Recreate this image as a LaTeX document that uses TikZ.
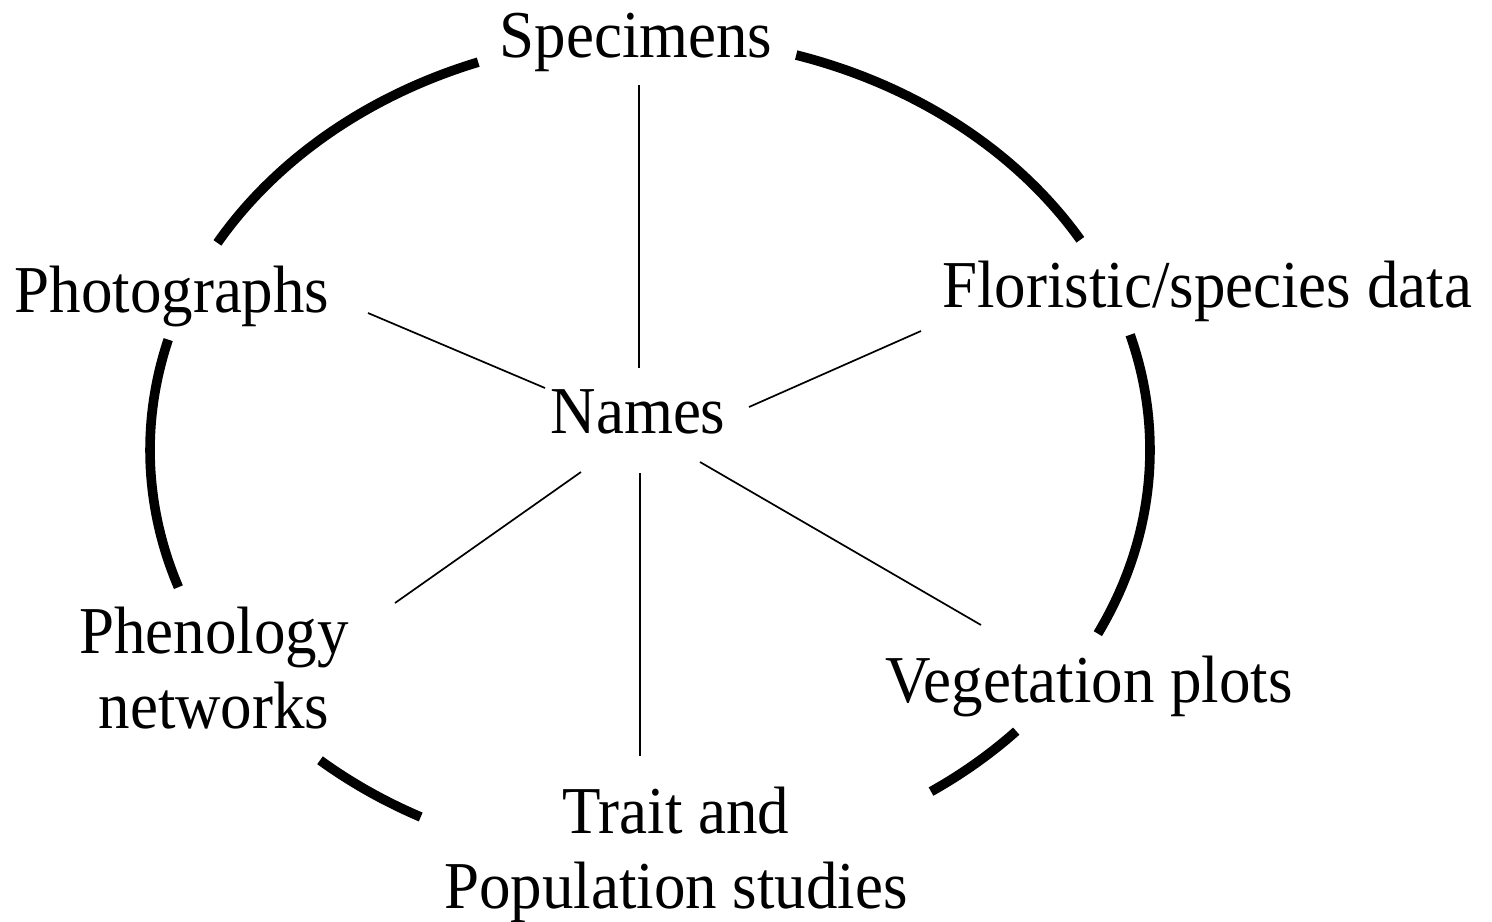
\documentclass[tikz,border=0pt]{standalone}
\usepackage{fontspec}
\setmainfont{Liberation Serif}[FakeStretch=0.94]
\usetikzlibrary{calc}
\tikzset{
  lbl/.style={inner sep=0pt, anchor=base, font=\fontsize{33.5}{37.5}\selectfont, align=center},
  ring/.style={line width=4.8pt},
  spoke/.style={line width=0.85pt},
}
\begin{document}
\begin{tikzpicture}[x=0.5pt,y=-0.5pt]
\path[use as bounding box, fill=white] (0,0) rectangle (1492,921);
\coordinate (c) at (650,450);
% labels (base = baseline of the last line)
\node[lbl] (spec)  at (636,57)   {Specimens};
\node[lbl] (photo) at (172,312)  {Photographs};
\node[lbl] (flor)  at (1207,307) {Floristic/species data};
\node[lbl] (names) at (638,433)  {Names};
\node[lbl] (pheno) at (214,728)  {Phenology\\networks};
\node[lbl] (trait) at (676,908)  {Trait and\\Population studies};
\node[lbl] (veg)   at (1089,702) {Vegetation plots};
% ring (broken ellipse)
\draw[ring] ([shift={(210.1:500 and 413)}]c) arc[start angle=210.1, end angle=249.9, x radius=500, y radius=413];
\draw[ring] ([shift={(160.6:500 and 413)}]c) arc[start angle=160.6, end angle=195.5, x radius=500, y radius=413];
\draw[ring] ([shift={(117.3:500 and 413)}]c) arc[start angle=117.3, end angle=131.3, x radius=500, y radius=413];
\draw[ring] ([shift={(42.9:500 and 413)}]c) arc[start angle=42.9, end angle=55.8, x radius=500, y radius=413];
\draw[ring] ([shift={(-16.2:500 and 413)}]c) arc[start angle=-16.2, end angle=26.4, x radius=500, y radius=413];
\draw[ring] ([shift={(-73:500 and 413)}]c) arc[start angle=-73, end angle=-30.6, x radius=500, y radius=413];
% spokes
\draw[spoke] ($(names.base)+(1,-65)$) -- ($(spec.base)+(3,28)$);
\draw[spoke] ($(names.base)+(-93,-45)$) -- ($(photo.base)+(196,1)$);
\draw[spoke] ($(names.base)+(111,-26)$) -- ($(flor.base)+(-286,24)$);
\draw[spoke] ($(names.base)+(-57,39)$) -- ($(pheno.base)+(181,-125)$);
\draw[spoke] ($(names.base)+(2,40)$) -- ($(trait.base)+(-36,-152)$);
\draw[spoke] ($(names.base)+(62,29)$) -- ($(veg.base)+(-108,-77)$);
\end{tikzpicture}
\end{document}
